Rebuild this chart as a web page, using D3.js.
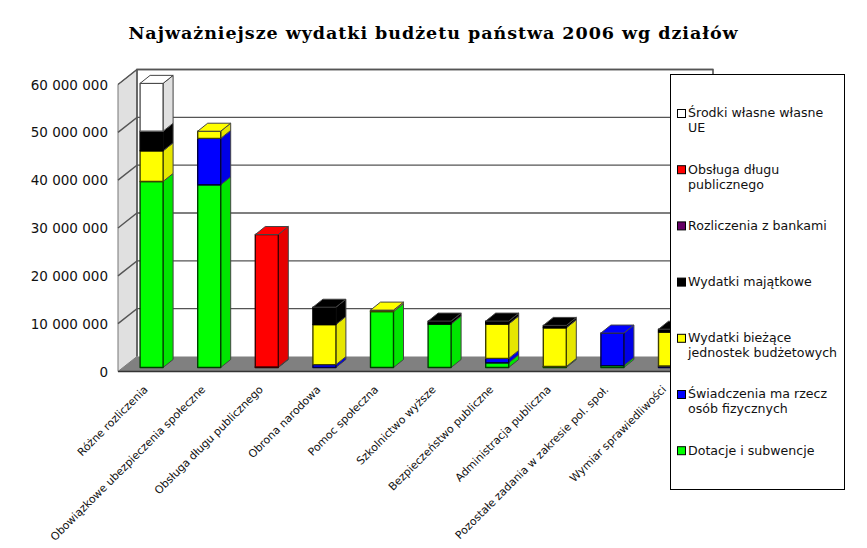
<!DOCTYPE html>
<html><head><meta charset="utf-8">
<script src="https://cdn.jsdelivr.net/npm/d3@7/dist/d3.min.js"></script>
<style>html,body{margin:0;padding:0;background:#fff}svg{display:block}text{font-family:"DejaVu Sans";}</style>
</head><body><svg id="c" width="867" height="548"></svg>
<script>
const titleText = "Najważniejsze wydatki budżetu państwa 2006 wg działów";
const categories = ["Różne rozliczenia","Obowiązkowe ubezpieczenia społeczne","Obsługa długu publicznego","Obrona narodowa","Pomoc społeczna","Szkolnictwo wyższe","Bezpieczeństwo publiczne","Administracja publiczna","Pozostałe zadania w zakresie pol. społ.","Wymiar sprawiedliwości"];
const dotacje   = [38900000,38200000,0,0,11700000,9100000,1000000,200000,400000,0];
const swiadcz   = [0,9700000,0,600000,0,0,900000,0,6800000,300000];
const biezace   = [6400000,1500000,0,8400000,300000,0,7200000,8100000,0,7100000];
const majatkowe = [4100000,0,100000,3600000,0,600000,600000,500000,0,600000];
const bankami   = [0,0,0,0,0,0,0,0,0,0];
const dlug      = [0,0,27700000,0,0,0,0,0,0,0];
const srodki    = [10000000,0,0,0,0,0,0,0,0,0];
const seriesNames = ["Dotacje i subwencje","Świadczenia ma rzecz\nosób fizycznych","Wydatki bieżące\njednostek budżetowych","Wydatki majątkowe","Rozliczenia z bankami","Obsługa długu\npublicznego","Środki własne własne\nUE"];
const seriesValues = [dotacje,swiadcz,biezace,majatkowe,bankami,dlug,srodki];
const seriesColors = ["#00ff00","#0000ff","#ffff00","#000000","#660066","#ff0000","#ffffff"];
const yTicks = [0,10000000,20000000,30000000,40000000,50000000,60000000];

const svg = d3.select("#c");
const y = d3.scaleLinear().domain([0,60000000]).range([371.5,84.5]);   // front plane
const x = d3.scaleBand().domain(categories).range([118,694]).paddingInner(0).paddingOuter(0);
const depth = {dx:19, dy:-15};
const bar = {w:23, dx:10, dy:-8, ox:4.6, oy:-4};
const fmt = v => d3.format(",")(v).replace(/,/g," ");
const grid = "#555";

svg.append("text").attr("x",433.5).attr("y",39).attr("text-anchor","middle")
  .style("font-family","'DejaVu Serif'").style("font-weight","bold").style("font-size","17.5px").style("letter-spacing","0.96px").text(titleText);

const poly = (pts,fill,stroke,sw) => svg.append("polygon").attr("points",pts.map(p=>p.join(",")).join(" "))
  .attr("fill",fill).attr("stroke",stroke||"none").attr("stroke-width",sw||0).attr("stroke-linejoin","round");

// walls
const L=x.range()[0], R=x.range()[1], y0=y(0), yT=y(60000000);
poly([[L,yT],[L+depth.dx,yT+depth.dy],[L+depth.dx,y0+depth.dy],[L,y0]],"#e0e0e0","#777",1);
poly([[L,y0],[L+depth.dx,y0+depth.dy],[R+depth.dx,y0+depth.dy],[R,y0]],"#808080");
svg.append("path").attr("fill","none").attr("stroke",grid).attr("stroke-width",1.6)
  .attr("d",`M${L+depth.dx},${y0+depth.dy}V${yT+depth.dy}H${R+depth.dx}V${y0+depth.dy}`);
yTicks.forEach(t=>{
  svg.append("path").attr("fill","none").attr("stroke",t===0?"#333":grid).attr("stroke-width",t===0?1.6:1.4)
    .attr("d",t===0?`M${L},${y(t)}H${R}`:`M${L},${y(t)}L${L+depth.dx},${y(t)+depth.dy}H${R+depth.dx}`);
});

// y labels
svg.selectAll("text.yl").data(yTicks).join("text").attr("class","yl")
  .attr("x",108).attr("y",d=>y(d)+5).attr("text-anchor","end")
  .style("font-size","13.5px").style("fill","#111").text(fmt);

// bars
const shade = (c,k)=>{const r=d3.rgb(c);return d3.rgb(r.r*k,r.g*k,r.b*k).formatHex();};
categories.forEach((cat,i)=>{
  const xl = x(cat)+x.bandwidth()/2 + bar.ox - bar.w/2 + 0.2;
  let acc=0;
  const g=[];
  seriesValues.forEach((vals,s)=>{ const v=vals[i]; if(v>0){ g.push({s,a:acc,b:acc+v}); acc+=v; } });
  g.forEach(d=>{
    const c=seriesColors[d.s];
    const yb=y(d.a)+bar.oy, yt=y(d.b)+bar.oy, xr=xl+bar.w;
    const stc = c==="#ffffff"?"#555":(d.s===3?"#000":shade(c,.25));
    poly([[xr,yb],[xr+bar.dx,yb+bar.dy],[xr+bar.dx,yt+bar.dy],[xr,yt]],c==="#ffffff"?"#e0e0e0":shade(c,.9),"#444",1);
    poly([[xl,yb],[xr,yb],[xr,yt],[xl,yt]],c,stc,1.4);
  });
  if(g.length){
    const t=g[g.length-1], c=seriesColors[t.s], yt=y(t.b)+bar.oy, xr=xl+bar.w;
    poly([[xl,yt],[xl+bar.dx,yt+bar.dy],[xr+bar.dx,yt+bar.dy],[xr,yt]],c,"#444",1);
  }
});

// x labels
svg.selectAll("text.xl").data(categories).join("text").attr("class","xl")
  .attr("transform",d=>`translate(${x(d)+x.bandwidth()/2-1},${387.5}) rotate(-45)`)
  .attr("text-anchor","end").attr("dy","0.35em")
  .style("font-size","10.9px").style("fill","#111").text(d=>d);

// legend
svg.append("rect").attr("x",670.5).attr("y",74.5).attr("width",174).attr("height",415).attr("fill","#fff").attr("stroke","#000");
const legendOrder = d3.range(seriesNames.length).reverse();
const lg = svg.selectAll("g.lg").data(legendOrder).join("g").attr("class","lg")
  .attr("transform",(d,i)=>`translate(677,${109.5+i*56.2})`);
lg.append("rect").attr("y",0).attr("width",8).attr("height",8).attr("x",0.5)
  .attr("fill",d=>seriesColors[d]).attr("stroke","#000").attr("stroke-width",1);
lg.each(function(d){
  const t=d3.select(this);
  seriesNames[d].split("\n").forEach((ln,j)=>t.append("text").attr("x",11).attr("y",3.5+j*15)
    .attr("dy","0.35em").style("font-size","12.6px").style("fill","#111").text(ln));
});
</script></body></html>
